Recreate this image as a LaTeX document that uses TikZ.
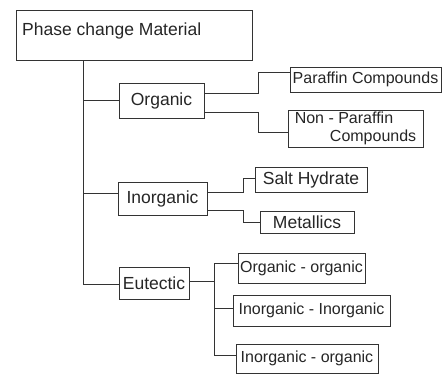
\documentclass[tikz,border=0pt]{standalone}
\usepackage{fontspec}
\setmainfont{Liberation Sans}
\begin{document}
\begin{tikzpicture}[x=1pt,y=-1pt,
  box/.style={draw=black!80, line width=0.9pt, inner sep=0pt, text=black!85},
  conn/.style={draw=black!80, line width=0.9pt},
  fa/.style={font=\fontsize{16}{18}\selectfont},
  fb/.style={font=\fontsize{17.5}{19}\selectfont}]
\useasboundingbox (0,0) rectangle (443,375);
\fill[white] (0,0) rectangle (443,375);
% root
\node[box, minimum width=236pt, minimum height=50pt] (root) at (134,35) {};
\node[anchor=base west, fb, text=black!85, inner sep=0pt] (roott) at (22,35) {Phase change Material};
% level 1
\node[box, fb, minimum width=85pt, minimum height=35pt] (org) at (161.5,100.5) {Organic};
\node[box, fb, minimum width=89pt, minimum height=33pt] (inorg) at (162.5,198.5) {Inorganic};
\node[box, fb, minimum width=70pt, minimum height=32pt] (eut) at (154,283) {Eutectic};
% level 2
\node[box, fa, minimum width=151pt, minimum height=25pt] (par) at (365.5,79.5) {Paraffin Compounds};
\node[box, fa, minimum width=135pt, minimum height=37pt, align=left] (npar) at (355.5,128.5) {Non - Paraffin\\\hspace*{2.2em}Compounds};
\node[box, fb, minimum width=112pt, minimum height=25pt] (salt) at (311,179.5) {Salt Hydrate};
\node[box, fb, minimum width=94pt, minimum height=22pt] (met) at (307,222) {Metallics};
\node[box, fa, minimum width=127pt, minimum height=30pt] (oo) at (301.5,268) {Organic - organic};
\node[box, fa, minimum width=157pt, minimum height=31pt] (ii) at (311.5,310.5) {Inorganic - Inorganic};
\node[box, fa, minimum width=142pt, minimum height=29pt] (io) at (307,358.5) {Inorganic - organic};
% trunk
\coordinate (tx) at (83,284);
\draw[conn] (root.south -| tx) -- (tx) -- (eut.west |- tx);
\draw[conn] (org.west -| tx) -- (org.west);
\coordinate (inw) at ([yshift=5.5pt]inorg.west);
\draw[conn] (inw -| tx) -- (inw);
% organic branches
\draw[conn] ([yshift=7.5pt]org.east) -- ++(54,0) |- ([yshift=7.5pt]par.west);
\draw[conn] ([yshift=-11.5pt]org.east) -- ++(54,0) |- ([yshift=-3.5pt]npar.west);
% inorganic branches
\draw[conn] ([yshift=6.5pt]inorg.east) -- ++(36,0) |- ([yshift=1.5pt]salt.west);
\draw[conn] ([yshift=-11.5pt]inorg.east) -- ++(36,0) |- (met.west);
% eutectic branches
\coordinate (ej) at (214,281);
\coordinate (oow) at ([yshift=5pt]oo.west);
\coordinate (iiw) at ([yshift=2.5pt]ii.west);
\coordinate (iow) at ([yshift=3.5pt]io.west);
\draw[conn] ([yshift=2pt]eut.east) -- (ej);
\draw[conn] (ej |- oow) -- (oow);
\draw[conn] (ej |- iiw) -- (iiw);
\draw[conn] (ej |- iow) -- (iow);
\draw[conn] (ej |- oow) -- (ej |- iow);
\end{tikzpicture}
\end{document}
